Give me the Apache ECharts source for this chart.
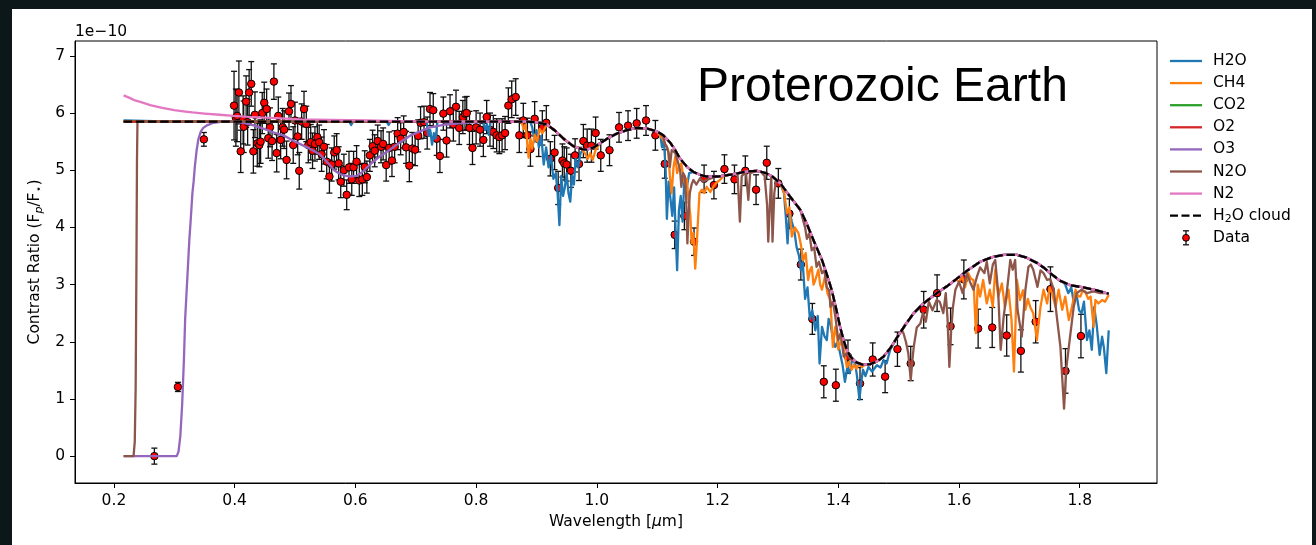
<!DOCTYPE html>
<html>
<head>
<meta charset="utf-8">
<script src="https://cdn.jsdelivr.net/npm/echarts@6/dist/echarts.min.js"></script>
<style>
  html, body { margin: 0; padding: 0; background: #0c1719; }
  #chart { width: 1316px; height: 545px; }
</style>
</head>
<body>
<div id="chart"></div>
<script>
// ---- Tick values -----------------------------------------------------------
const xTicks = [0.2, 0.4, 0.6, 0.8, 1.0, 1.2, 1.4, 1.6, 1.8];
const yTicks = [0, 1, 2, 3, 4, 5, 6, 7];

// ---- Observed spectrum (units of 1e-10) ------------------------------------
const dataWl = [
  0.267, 0.306, 0.349,
  0.399, 0.402, 0.404, 0.407, 0.410, 0.414, 0.415, 0.419, 0.4215, 0.424,
  0.4275, 0.431, 0.4336, 0.4375, 0.4408, 0.443, 0.4457, 0.449, 0.453, 0.4557,
  0.4585, 0.462, 0.465, 0.4696, 0.4723, 0.4762, 0.4795, 0.482, 0.486, 0.490,
  0.4933, 0.497, 0.4999, 0.5044, 0.507, 0.511, 0.5149, 0.5187, 0.522, 0.526,
  0.529, 0.533, 0.537, 0.540, 0.544, 0.548, 0.5525, 0.557, 0.5607, 0.565,
  0.569, 0.5723, 0.5757, 0.581, 0.5856, 0.5894, 0.594, 0.597, 0.602, 0.6065,
  0.6115, 0.6155, 0.619, 0.624, 0.6285, 0.632, 0.637, 0.6425, 0.646, 0.651,
  0.656, 0.6606, 0.665, 0.670, 0.675, 0.680, 0.684, 0.6894, 0.6943, 0.699,
  0.704, 0.708, 0.7137, 0.719, 0.7236, 0.729, 0.7347, 0.740, 0.7457, 0.751,
  0.7568, 0.7623, 0.7667, 0.772, 0.778, 0.7816, 0.7844, 0.789, 0.794, 0.800,
  0.8065, 0.812, 0.8175, 0.823, 0.8285, 0.834, 0.8385, 0.843, 0.848, 0.8534,
  0.859, 0.8656, 0.8716, 0.8782, 0.885, 0.890, 0.897, 0.9037, 0.9097, 0.9163,
  0.923, 0.930, 0.936, 0.943, 0.946, 0.950, 0.957, 0.964, 0.9705, 0.9777,
  0.984, 0.991, 0.998, 1.0065, 1.021, 1.0368, 1.0517, 1.066, 1.0815, 1.097,
  1.1125, 1.129, 1.145, 1.161, 1.1777, 1.194, 1.2114, 1.228, 1.246, 1.2638,
  1.2815, 1.3007, 1.319, 1.338, 1.357, 1.376, 1.396, 1.416, 1.436, 1.457,
  1.4776, 1.498, 1.52, 1.5415, 1.5637, 1.586, 1.608, 1.6317, 1.655, 1.679,
  1.7025, 1.727, 1.7515, 1.7764, 1.802
];
const dataRatio = [
  0.00, 1.21, 5.54,
  6.13, 5.92, 5.95, 6.36, 5.33, 5.88, 5.76, 6.20, 5.84, 6.36,
  6.51, 5.33, 5.97, 5.47, 5.44, 5.50, 6.00, 6.18, 6.07, 5.56,
  5.75, 5.51, 6.55, 5.30, 5.95, 5.53, 5.75, 5.71, 5.18, 6.03,
  6.16, 5.44, 5.87, 5.59, 4.99, 5.85, 6.07, 5.81, 5.44, 5.49,
  5.34, 5.46, 5.58, 5.49, 5.28, 5.41, 5.15, 4.89, 5.10, 5.31,
  5.35, 5.12, 4.80, 5.00, 4.57, 5.05, 4.84, 5.05, 5.15, 4.82,
  4.84, 5.06, 4.88, 5.26, 5.42, 5.34, 5.51, 5.41, 5.46, 5.09,
  5.39, 5.17, 5.41, 5.64, 5.55, 5.67, 5.40, 5.08, 5.38, 5.36,
  5.60, 5.83, 5.84, 5.65, 6.07, 6.05, 5.55, 5.25, 5.99, 5.52,
  6.03, 5.80, 6.11, 5.74, 5.93, 5.99, 6.00, 5.74, 5.39, 5.75,
  5.71, 5.53, 5.93, 5.71, 5.67, 5.61, 5.58, 5.61, 5.65, 6.13,
  6.24, 6.28, 5.61, 5.87, 5.61, 5.37, 5.90, 5.54, 5.74, 5.83,
  5.20, 5.31, 4.69, 5.17, 5.12, 5.10, 4.99, 5.26, 5.11, 5.51,
  5.43, 5.43, 5.65, 5.26, 5.35, 5.75, 5.78, 5.82, 5.87, 5.61,
  5.11, 3.87, 4.20, 3.75, 4.85, 4.74, 5.02, 4.84, 4.99, 4.66,
  5.13, 4.77, 4.24, 3.35, 2.40, 1.30, 1.24, 1.74, 1.27, 1.69,
  1.39, 1.87, 1.62, 2.56, 2.85, 2.27, 3.09, 2.23, 2.25, 2.11,
  1.84, 2.35, 2.92, 1.49, 2.10
];
const dataErr = [
  0.14, 0.08, 0.12,
  0.60, 0.50, 0.45, 0.55, 0.37, 0.42, 0.45, 0.45, 0.40, 0.40,
  0.39, 0.38, 0.40, 0.40, 0.38, 0.38, 0.36, 0.36, 0.35, 0.35,
  0.34, 0.34, 0.31, 0.33, 0.33, 0.33, 0.33, 0.33, 0.33, 0.32,
  0.32, 0.32, 0.32, 0.32, 0.32, 0.31, 0.31, 0.31, 0.31, 0.31,
  0.31, 0.30, 0.30, 0.30, 0.30, 0.30, 0.30, 0.29, 0.29, 0.29,
  0.29, 0.29, 0.28, 0.28, 0.26, 0.28, 0.28, 0.28, 0.28, 0.28,
  0.28, 0.28, 0.28, 0.28, 0.28, 0.28, 0.28, 0.28, 0.28, 0.28,
  0.28, 0.28, 0.28, 0.28, 0.28, 0.28, 0.28, 0.28, 0.28, 0.28,
  0.28, 0.28, 0.28, 0.28, 0.29, 0.29, 0.29, 0.29, 0.29, 0.29,
  0.29, 0.29, 0.29, 0.29, 0.29, 0.29, 0.29, 0.29, 0.29, 0.29,
  0.29, 0.29, 0.29, 0.29, 0.29, 0.29, 0.29, 0.29, 0.29, 0.31,
  0.32, 0.32, 0.30, 0.30, 0.30, 0.30, 0.30, 0.30, 0.30, 0.30,
  0.30, 0.30, 0.29, 0.29, 0.29, 0.29, 0.29, 0.29, 0.29, 0.29,
  0.29, 0.29, 0.28, 0.28, 0.27, 0.26, 0.26, 0.26, 0.26, 0.26,
  0.25, 0.24, 0.24, 0.24, 0.24, 0.24, 0.25, 0.25, 0.26, 0.26,
  0.29, 0.26, 0.26, 0.27, 0.27, 0.28, 0.28, 0.29, 0.28, 0.29,
  0.28, 0.30, 0.30, 0.32, 0.32, 0.32, 0.34, 0.34, 0.35, 0.36,
  0.37, 0.37, 0.39, 0.39, 0.38
];

// ---- Model spectra ---------------------------------------------------------
// Cloudy continuum beyond 0.88 um (shared by every model where no band absorbs)
const cloudIR = [
  [0.88, 5.85], [0.90, 5.84], [0.917, 5.80], [0.93, 5.70], [0.945, 5.55],
  [0.961, 5.42], [0.975, 5.37], [0.983, 5.36], [0.995, 5.40], [1.005, 5.47],
  [1.02, 5.57], [1.035, 5.65], [1.05, 5.70], [1.065, 5.74], [1.083, 5.73],
  [1.099, 5.68], [1.11, 5.61], [1.121, 5.49], [1.13, 5.35], [1.138, 5.20],
  [1.15, 5.05], [1.16, 4.97], [1.171, 4.92], [1.182, 4.89], [1.20, 4.89],
  [1.226, 4.93], [1.25, 4.98], [1.265, 4.99], [1.28, 4.95], [1.292, 4.88],
  [1.304, 4.77], [1.32, 4.54], [1.337, 4.31], [1.348, 4.06], [1.36, 3.75],
  [1.373, 3.43], [1.381, 3.18], [1.389, 2.91], [1.396, 2.60], [1.403, 2.26],
  [1.409, 2.02], [1.414, 1.86], [1.42, 1.74], [1.43, 1.64], [1.44, 1.60],
  [1.453, 1.61], [1.465, 1.66], [1.475, 1.74], [1.487, 1.90], [1.497, 2.07],
  [1.51, 2.28], [1.525, 2.50], [1.54, 2.66], [1.552, 2.76], [1.566, 2.87],
  [1.58, 2.97], [1.595, 3.09], [1.613, 3.24], [1.635, 3.40], [1.655, 3.48],
  [1.674, 3.52], [1.696, 3.52], [1.712, 3.47], [1.729, 3.38], [1.74, 3.30],
  [1.751, 3.20], [1.767, 3.07], [1.784, 2.99], [1.806, 2.95], [1.828, 2.90],
  [1.848, 2.84]
];
const cloudUV = [[0.216, 5.85]];

const h2oBand1 = [
  [0.216, 5.87], [0.30, 5.85], [0.59, 5.85], [0.593, 5.79], [0.596, 5.85],
  [0.652, 5.85], [0.655, 5.79], [0.658, 5.85], [0.718, 5.85], [0.721, 5.60],
  [0.724, 5.70], [0.727, 5.45], [0.730, 5.65], [0.733, 5.55], [0.736, 5.85],
  [0.812, 5.85], [0.815, 5.70], [0.818, 5.80], [0.821, 5.62], [0.824, 5.85],
  [0.88, 5.85], [0.89, 5.84], [0.893, 5.75], [0.897, 5.50], [0.900, 5.70],
  [0.904, 5.40], [0.908, 5.60], [0.912, 5.10], [0.916, 5.40], [0.92, 5.05],
  [0.924, 5.25], [0.928, 4.85], [0.932, 4.95], [0.935, 4.60], [0.938, 4.04],
  [0.941, 4.90], [0.944, 4.55], [0.947, 4.70], [0.95, 4.95], [0.953, 4.60],
  [0.956, 4.45], [0.959, 4.90], [0.962, 4.75], [0.965, 5.20], [0.969, 5.05],
  [0.973, 5.30], [0.978, 5.36]
];
const h2oBand2 = [
  [1.105, 5.64], [1.108, 5.40], [1.111, 5.55], [1.114, 5.00], [1.116, 4.15],
  [1.119, 4.80], [1.122, 4.50], [1.125, 4.20], [1.128, 4.70], [1.131, 3.80],
  [1.133, 3.25], [1.136, 4.30], [1.139, 4.55], [1.142, 4.10], [1.145, 4.85],
  [1.149, 4.70], [1.153, 4.95]
];
const h2oBand3 = [
  [1.31, 4.60], [1.313, 4.20], [1.316, 3.72], [1.319, 4.30], [1.323, 4.10],
  [1.327, 3.95], [1.331, 3.65], [1.335, 3.50], [1.338, 3.25], [1.341, 3.40],
  [1.345, 2.75], [1.349, 2.95], [1.353, 2.40], [1.357, 2.55], [1.362, 2.20],
  [1.366, 2.45], [1.369, 1.62], [1.373, 2.26], [1.377, 2.10], [1.381, 2.03],
  [1.384, 2.40], [1.387, 2.32], [1.391, 2.05], [1.395, 1.91], [1.399, 2.00],
  [1.403, 1.80], [1.407, 1.60], [1.411, 1.30], [1.415, 1.55], [1.419, 1.45],
  [1.423, 1.70], [1.428, 1.62], [1.431, 1.40], [1.435, 0.99], [1.438, 1.30],
  [1.441, 1.51], [1.445, 1.40], [1.45, 1.56], [1.456, 1.48], [1.464, 1.59],
  [1.47, 1.55], [1.475, 1.68], [1.48, 1.62], [1.486, 1.86]
];
const h2oBand4 = [
  [1.772, 3.05], [1.776, 3.00], [1.781, 2.85], [1.786, 2.95], [1.79, 2.70],
  [1.795, 2.80], [1.799, 2.55], [1.803, 2.50], [1.807, 2.70], [1.812, 2.03],
  [1.816, 2.20], [1.82, 1.86], [1.824, 2.61], [1.828, 2.30], [1.833, 1.77],
  [1.837, 2.09], [1.840, 1.90], [1.844, 1.45], [1.848, 2.20]
];

const ch4Band1 = [
  [0.216, 5.85], [0.875, 5.85], [0.879, 5.72], [0.882, 5.80], [0.885, 5.45],
  [0.887, 5.22], [0.89, 5.55], [0.893, 5.38], [0.897, 5.62], [0.901, 5.50],
  [0.905, 5.72], [0.91, 5.65], [0.917, 5.80], [0.93, 5.70], [0.945, 5.55],
  [0.961, 5.42], [0.975, 5.37], [0.98, 5.30], [0.985, 5.20], [0.989, 5.30],
  [0.993, 5.18], [0.998, 5.35]
];
const ch4Band2 = [
  [1.105, 5.60], [1.11, 5.53], [1.114, 5.45], [1.118, 5.36], [1.121, 4.90],
  [1.124, 4.60], [1.127, 5.05], [1.13, 5.24], [1.133, 4.95], [1.136, 5.05],
  [1.14, 5.12], [1.143, 4.90], [1.146, 4.77], [1.149, 4.85], [1.152, 4.48],
  [1.155, 4.20], [1.157, 3.72], [1.16, 3.90], [1.163, 3.28], [1.165, 3.60],
  [1.167, 4.01], [1.17, 4.60], [1.174, 4.66], [1.178, 4.60], [1.182, 4.71],
  [1.188, 4.62], [1.193, 4.71], [1.198, 4.78], [1.204, 4.83], [1.21, 4.90]
];
const ch4Band3 = [
  [1.31, 4.62], [1.315, 4.25], [1.319, 4.35], [1.323, 3.84], [1.328, 4.00],
  [1.334, 3.90], [1.338, 3.70], [1.342, 3.43], [1.346, 3.55], [1.35, 3.08],
  [1.353, 3.25], [1.356, 3.31], [1.359, 3.00], [1.362, 3.08], [1.367, 3.26],
  [1.37, 3.00], [1.373, 2.91], [1.378, 3.14], [1.382, 2.85], [1.387, 2.73],
  [1.391, 1.91], [1.395, 2.26], [1.398, 2.10], [1.40, 1.86], [1.405, 2.05],
  [1.409, 1.91], [1.414, 1.56], [1.418, 1.65], [1.422, 1.51], [1.426, 1.60],
  [1.43, 1.53], [1.435, 1.62], [1.439, 1.56], [1.445, 1.60]
];
const ch4Band4 = [
  [1.60, 3.05], [1.605, 3.15], [1.61, 2.95], [1.615, 3.20], [1.62, 3.10],
  [1.624, 3.08], [1.628, 2.15], [1.631, 3.00], [1.635, 2.79], [1.64, 3.08],
  [1.646, 2.67], [1.651, 2.91], [1.656, 2.61], [1.66, 3.26], [1.665, 2.79],
  [1.671, 3.02], [1.676, 2.61], [1.682, 2.91], [1.687, 2.38], [1.691, 1.48],
  [1.696, 3.08], [1.701, 2.73], [1.706, 2.90], [1.71, 2.56], [1.714, 2.75],
  [1.718, 2.61], [1.723, 2.50], [1.729, 2.03], [1.735, 2.61], [1.74, 2.91],
  [1.746, 2.67], [1.75, 2.95], [1.754, 2.85], [1.76, 2.61], [1.765, 2.91],
  [1.771, 2.56], [1.776, 2.79], [1.782, 2.38], [1.787, 2.61], [1.793, 2.91],
  [1.797, 2.80], [1.801, 2.79], [1.805, 2.90], [1.809, 2.88], [1.814, 2.75],
  [1.818, 2.79], [1.823, 2.26], [1.826, 2.73], [1.831, 2.67], [1.837, 2.73],
  [1.842, 2.70], [1.848, 2.82]
];

const o3Band = [
  [0.216, 0], [0.304, 0], [0.307, 0.08], [0.31, 0.35], [0.313, 0.9],
  [0.316, 1.7], [0.318, 2.4], [0.32, 2.8], [0.322, 3.2], [0.325, 3.8],
  [0.327, 4.1], [0.33, 4.6], [0.332, 4.8], [0.334, 5.06], [0.337, 5.35],
  [0.34, 5.55], [0.344, 5.68], [0.348, 5.74], [0.355, 5.79], [0.365, 5.83],
  [0.38, 5.85], [0.40, 5.85], [0.414, 5.83], [0.43, 5.79], [0.45, 5.72],
  [0.465, 5.66], [0.483, 5.60], [0.50, 5.50], [0.52, 5.40], [0.541, 5.28],
  [0.555, 5.12], [0.565, 5.00], [0.575, 4.93], [0.59, 4.89], [0.602, 4.90],
  [0.613, 4.98], [0.624, 5.10], [0.64, 5.24], [0.656, 5.35], [0.674, 5.49],
  [0.69, 5.60], [0.707, 5.68], [0.724, 5.75], [0.75, 5.80], [0.78, 5.83],
  [0.82, 5.85]
];

const n2oUV = [
  [0.216, 0], [0.2325, 0], [0.2345, 0.25], [0.236, 1.2], [0.2372, 3.2],
  [0.2382, 5.2], [0.239, 5.85]
];
const n2oBand1 = [
  [1.105, 5.64], [1.11, 5.59], [1.113, 5.45], [1.116, 5.41], [1.119, 5.30],
  [1.121, 5.06], [1.124, 5.35], [1.13, 5.30], [1.135, 5.12], [1.138, 5.00],
  [1.14, 4.71], [1.143, 4.95], [1.146, 4.89], [1.148, 4.50], [1.15, 3.72],
  [1.152, 4.20], [1.154, 4.60], [1.157, 4.75], [1.16, 4.83], [1.165, 4.75],
  [1.171, 4.86], [1.176, 4.80], [1.182, 4.83], [1.19, 4.86], [1.20, 4.89],
  [1.226, 4.93], [1.233, 4.95], [1.237, 4.10], [1.240, 4.90], [1.247, 4.96],
  [1.251, 4.48], [1.254, 4.95], [1.265, 4.99], [1.272, 4.97], [1.278, 4.90],
  [1.282, 4.40], [1.284, 3.75], [1.287, 4.50], [1.289, 4.90], [1.291, 3.75],
  [1.294, 4.60], [1.297, 4.83], [1.304, 4.77], [1.32, 4.54], [1.337, 4.31],
  [1.345, 4.00], [1.348, 3.80], [1.352, 3.90], [1.356, 3.60], [1.36, 3.65],
  [1.364, 3.31], [1.368, 3.40], [1.373, 3.20], [1.377, 3.25], [1.381, 2.95],
  [1.385, 2.90], [1.387, 2.61], [1.391, 2.70], [1.395, 2.45], [1.40, 2.03],
  [1.404, 2.15], [1.409, 1.74], [1.414, 1.80], [1.42, 1.70]
];
const n2oBand2 = [
  [1.5, 2.09], [1.505, 2.20], [1.508, 2.15], [1.512, 2.00], [1.516, 1.80],
  [1.52, 1.33], [1.523, 1.70], [1.525, 1.91], [1.53, 2.25], [1.536, 2.32],
  [1.54, 2.50], [1.545, 2.35], [1.55, 2.70], [1.556, 2.55], [1.563, 2.73],
  [1.568, 2.70], [1.574, 2.50], [1.578, 2.85], [1.581, 2.40], [1.584, 1.56],
  [1.587, 2.20], [1.59, 2.61], [1.594, 2.91], [1.60, 3.05], [1.606, 2.85],
  [1.613, 3.20], [1.618, 3.05], [1.624, 2.91], [1.63, 3.15], [1.635, 3.30],
  [1.642, 3.20], [1.646, 3.40], [1.651, 3.02], [1.656, 3.35], [1.66, 3.43],
  [1.665, 2.85], [1.669, 1.86], [1.674, 2.44], [1.679, 2.85], [1.685, 3.43],
  [1.689, 3.26], [1.693, 3.43], [1.697, 2.56], [1.704, 2.09], [1.71, 2.91],
  [1.715, 3.31], [1.719, 3.35], [1.723, 3.26], [1.73, 2.96], [1.735, 3.25],
  [1.74, 3.20], [1.746, 3.08], [1.751, 3.10], [1.757, 2.91], [1.762, 2.44],
  [1.768, 1.91], [1.774, 0.83], [1.778, 1.56], [1.784, 2.09], [1.79, 2.61],
  [1.795, 2.85], [1.803, 2.91], [1.812, 2.85], [1.823, 2.88], [1.834, 2.85],
  [1.845, 2.85], [1.848, 2.84]
];

const n2Rayleigh = [
  [0.216, 6.31], [0.225, 6.27], [0.235, 6.22], [0.245, 6.19], [0.26, 6.14],
  [0.28, 6.09], [0.30, 6.05], [0.315, 6.03], [0.33, 6.01], [0.35, 5.99],
  [0.375, 5.97], [0.398, 5.95], [0.43, 5.93], [0.47, 5.91], [0.508, 5.89],
  [0.56, 5.88], [0.62, 5.87], [0.674, 5.86], [0.75, 5.85]
];

// continuum points of cloudIR inside [a, b]
const span = (a, b) => cloudIR.filter(p => p[0] >= a - 1e-9 && p[0] <= b + 1e-9);

const cloudCurve = cloudUV.concat(cloudIR);
const h2oCurve = [].concat(h2oBand1, span(0.983, 1.099), h2oBand2,
  span(1.16, 1.304), h2oBand3, span(1.497, 1.767), h2oBand4);
const ch4Curve = [].concat(ch4Band1, span(1.005, 1.099), ch4Band2,
  span(1.226, 1.304), ch4Band3, span(1.453, 1.595), ch4Band4);
const o3Curve = o3Band.concat(cloudIR);
const n2oCurve = [].concat(n2oUV, span(0.88, 1.099), n2oBand1,
  span(1.43, 1.497), n2oBand2);
const n2Curve = n2Rayleigh.concat(cloudIR);

// ---- Chart -----------------------------------------------------------------
const FONT = '"DejaVu Sans", sans-serif';
const FS = 15.5;
const colors = {
  H2O: '#1f77b4', CH4: '#ff7f0e', CO2: '#2ca02c', O2: '#d62728',
  O3: '#9467bd', N2O: '#8c564b', N2: '#e377c2', cloud: '#000000'
};
const LW = 2.3;
const DASH = [8.5, 3.7];

function modelLine(name, data, color, dashed) {
  return {
    type: 'line', name, data, symbol: 'none', showSymbol: false, silent: true,
    animation: false,
    lineStyle: { color, width: LW, type: dashed ? DASH : 'solid', cap: 'butt', join: 'round' }
  };
}

const errData = dataWl.map((w, i) => [w, dataRatio[i], dataErr[i]]);
const pointData = dataWl.map((w, i) => [w, dataRatio[i]]);

const series = [
  modelLine('H2O', h2oCurve, colors.H2O),
  modelLine('CH4', ch4Curve, colors.CH4),
  modelLine('CO2', cloudCurve, colors.CO2),
  modelLine('O2', cloudCurve, colors.O2),
  modelLine('O3', o3Curve, colors.O3),
  modelLine('N2O', n2oCurve, colors.N2O),
  modelLine('N2', n2Curve, colors.N2),
  modelLine('H2O cloud', cloudCurve, colors.cloud, true),
  {
    type: 'custom', name: 'Data bars', data: errData, silent: true,
    encode: { x: 0, y: 1 },
    renderItem(params, api) {
      const x = api.value(0), y = api.value(1), e = api.value(2);
      const top = api.coord([x, y + e]);
      const bot = api.coord([x, y - e]);
      const cap = 3;
      const style = { stroke: '#111', lineWidth: 1.3 };
      return {
        type: 'group',
        children: [
          { type: 'line', shape: { x1: top[0], y1: top[1], x2: bot[0], y2: bot[1] }, style },
          { type: 'line', shape: { x1: top[0] - cap, y1: top[1], x2: top[0] + cap, y2: top[1] }, style },
          { type: 'line', shape: { x1: bot[0] - cap, y1: bot[1], x2: bot[0] + cap, y2: bot[1] }, style }
        ]
      };
    }
  },
  {
    type: 'scatter', name: 'Data', data: pointData, silent: true,
    symbol: 'circle', symbolSize: 7.5,
    itemStyle: { color: '#ff0000', borderColor: '#000', borderWidth: 1, opacity: 1 }
  }
];

// legend drawn beside the axes
const legendEntries = [
  { text: 'H2O', color: colors.H2O },
  { text: 'CH4', color: colors.CH4 },
  { text: 'CO2', color: colors.CO2 },
  { text: 'O2', color: colors.O2 },
  { text: 'O3', color: colors.O3 },
  { text: 'N2O', color: colors.N2O },
  { text: 'N2', color: colors.N2 },
  { text: 'H{sub|2}O cloud', color: colors.cloud, dashed: true },
  { text: 'Data', marker: true }
];
const legendGraphics = [];
legendEntries.forEach((it, i) => {
  const y = 61 + i * 22.1;
  if (it.marker) {
    legendGraphics.push(
      { type: 'line', shape: { x1: 1186, y1: y - 7, x2: 1186, y2: y + 7 }, style: { stroke: '#111', lineWidth: 1.3 } },
      { type: 'line', shape: { x1: 1183, y1: y - 7, x2: 1189, y2: y - 7 }, style: { stroke: '#111', lineWidth: 1.3 } },
      { type: 'line', shape: { x1: 1183, y1: y + 7, x2: 1189, y2: y + 7 }, style: { stroke: '#111', lineWidth: 1.3 } },
      { type: 'circle', shape: { cx: 1186, cy: y, r: 3.4 }, style: { fill: '#ff0000', stroke: '#000', lineWidth: 1 } }
    );
  } else {
    legendGraphics.push({
      type: 'line', shape: { x1: 1170, y1: y, x2: 1202, y2: y },
      style: { stroke: it.color, lineWidth: LW, lineDash: it.dashed ? [8, 3.5] : null }
    });
  }
  legendGraphics.push({
    type: 'text', x: 1213, y: y,
    style: {
      text: it.text, fill: '#000', font: FS + 'px ' + FONT, verticalAlign: 'middle', align: 'left',
      rich: { sub: { fontSize: 11, fontFamily: FONT, verticalAlign: 'bottom', padding: [7, 0, 0, 0], fill: '#000' } }
    }
  });
});

const chart = echarts.init(document.getElementById('chart'), null, { renderer: 'canvas' });
chart.setOption({
  animation: false,
  backgroundColor: '#0c1719',
  graphic: [
    { type: 'rect', shape: { x: 12, y: 9, width: 1300, height: 540 }, style: { fill: '#ffffff' }, z: -10 },
    {
      type: 'text', x: 697, y: 88,
      style: { text: 'Proterozoic Earth', fill: '#000', font: '48px "Liberation Sans", Arial, sans-serif', verticalAlign: 'middle' }
    },
    {
      type: 'text', x: 75, y: 32,
      style: { text: '1e\u221210', fill: '#000', font: FS + 'px ' + FONT, verticalAlign: 'middle' }
    }
  ].concat(legendGraphics),
  grid: { left: 75, top: 41, width: 1082, height: 442, show: true, borderColor: '#000', borderWidth: 1, backgroundColor: 'transparent' },
  xAxis: {
    type: 'value', min: 0.1355, max: 1.928,
    name: 'Wavelength [{it|\u03bc}m]', nameLocation: 'middle', nameGap: 29,
    nameTextStyle: { color: '#000', fontFamily: FONT, fontSize: FS, rich: { it: { fontStyle: 'italic', fontFamily: FONT, fontSize: FS } } },
    axisLine: { onZero: false, lineStyle: { color: '#000', width: 1 } },
    axisTick: { show: true, length: 5, inside: false, customValues: xTicks, lineStyle: { color: '#000', width: 1 } },
    axisLabel: { customValues: xTicks, margin: 10, color: '#000', fontFamily: FONT, fontSize: FS, formatter: v => v.toFixed(1) },
    splitLine: { show: false }
  },
  yAxis: {
    type: 'value', min: -0.47, max: 7.26,
    name: 'Contrast Ratio (F{sub|p}/F{sub2|\u22c6})', nameLocation: 'middle', nameGap: 27, nameRotate: 90,
    nameTextStyle: {
      color: '#000', fontFamily: FONT, fontSize: FS,
      rich: {
        sub: { fontSize: 11, fontStyle: 'italic', fontFamily: FONT, verticalAlign: 'bottom', padding: [7, 0, 0, 0] },
        sub2: { fontSize: 11, fontFamily: FONT, verticalAlign: 'bottom', padding: [7, 0, 0, 0] }
      }
    },
    axisLine: { onZero: false, lineStyle: { color: '#000', width: 1 } },
    axisTick: { show: true, length: 5, inside: false, customValues: yTicks, lineStyle: { color: '#000', width: 1 } },
    axisLabel: { customValues: yTicks, margin: 10, color: '#000', fontFamily: FONT, fontSize: FS, formatter: v => String(Math.round(v)) },
    splitLine: { show: false }
  },
  series
});
</script>
</body>
</html>
